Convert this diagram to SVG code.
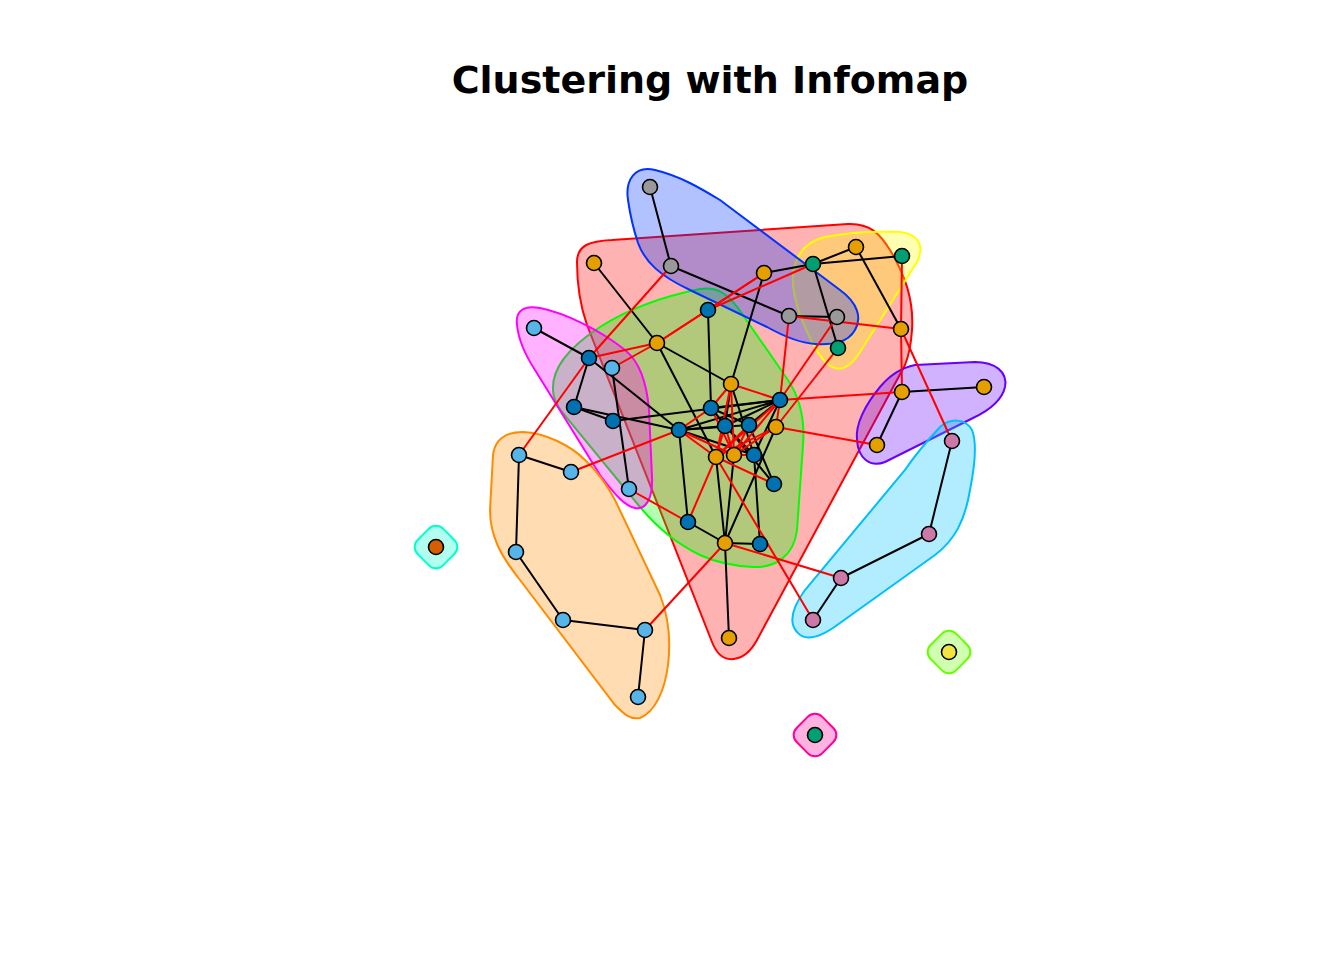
<svg xmlns="http://www.w3.org/2000/svg" width="1344" height="960" viewBox="0 0 1344 960">
<style>
.h{stroke-width:2}
.k line{stroke:#000;stroke-width:2}
.rd line{stroke:#FF0000;stroke-width:2}
.n circle{stroke:#000;stroke-width:1.6}
.o{fill:#E69F00}.b{fill:#0072B2}.s{fill:#56B4E9}.g{fill:#999999}.t{fill:#009E73}.p{fill:#CC79A7}.y{fill:#F0E442}.v{fill:#D55E00}
</style>
<rect width="1344" height="960" fill="#fff"/>
<text x="710" y="93" text-anchor="middle" font-family="DejaVu Sans, sans-serif" font-weight="bold" font-size="38">Clustering with Infomap</text>
<g id="hulls">
<path id="hull-red" class="h" fill="#FF0000" fill-opacity="0.3" stroke="#FF0000" d="M577,262 C577,245 590,241 612,240 L848,224 C870,223 880,234 890,250 C905,275 914,300 912,330 C911,345 909,355 905,365 L757,640 C745,662 722,668 712,642 L587,325 C580,305 577,285 577,262 Z"/>
<path id="hull-yellow" class="h" fill="#FFFF00" fill-opacity="0.3" stroke="#FFFF00" d="M793,275 C795,255 805,242 825,237 C845,233 875,231 900,232 C918,234 925,245 917,262 L860,352 C850,368 840,372 830,366 C818,358 808,335 800,315 C795,300 792,285 793,275 Z"/>
<path id="hull-green" class="h" fill="#00FF00" fill-opacity="0.3" stroke="#00FF00" d="M553,390 C552,370 565,350 600,327 C630,308 665,296 700,289 C718,286 728,295 738,308 L788,380 C800,398 805,420 803,445 L797,530 C794,556 775,568 753,567 C735,566 715,562 700,555 C675,543 655,525 640,507 L562,412 C556,404 553,398 553,390 Z"/>
<path id="hull-blue" class="h" fill="#0033FF" fill-opacity="0.3" stroke="#0033FF" d="M628,200 C625,180 635,165 655,170 C680,176 700,188 720,200 L840,290 C858,303 862,318 855,330 C848,342 835,345 815,344 C800,343 785,337 767,327 L690,290 C660,276 645,262 638,243 C633,228 630,214 628,200 Z"/>
<path id="hull-magenta" class="h" fill="#FF00FF" fill-opacity="0.3" stroke="#FF00FF" d="M517,325 C515,310 525,305 540,308 C565,313 600,330 625,350 C640,362 647,385 649,410 L652,477 C653,500 645,510 635,508 C625,506 615,495 600,475 L535,370 C522,350 518,335 517,325 Z"/>
<path id="hull-orange" class="h" fill="#FF8C00" fill-opacity="0.3" stroke="#FF8C00" d="M493,455 C495,440 505,432 523,432 C545,433 570,445 585,460 C598,472 607,485 615,500 L660,595 C668,615 671,640 668,665 C665,690 655,712 640,718 C630,720 624,714 615,705 L520,580 C500,555 490,535 490,510 Z"/>
<path id="hull-purple" class="h" fill="#6600FF" fill-opacity="0.3" stroke="#6600FF" d="M857,440 C855,425 865,405 880,387 C890,375 900,368 915,365 L975,362 C995,362 1008,372 1005,387 C1002,400 990,410 973,418 L885,462 C870,468 858,458 857,440 Z"/>
<path id="hull-lightblue" class="h" fill="#00BFFF" fill-opacity="0.3" stroke="#00BFFF" d="M940,427 C950,418 965,418 972,430 C978,445 974,470 970,490 C965,520 955,540 935,555 L840,623 C820,638 805,642 797,632 C788,622 792,608 805,590 L905,470 C915,455 928,440 940,427 Z"/>
<rect id="hull-aqua" class="h" x="-18" y="-18" width="36" height="36" rx="10" transform="translate(436,547) rotate(45)" fill="#00FFCC" fill-opacity="0.3" stroke="#00FFCC"/>
<rect id="hull-lime" class="h" x="-18" y="-18" width="36" height="36" rx="10" transform="translate(949,652) rotate(45)" fill="#66FF00" fill-opacity="0.3" stroke="#66FF00"/>
<rect id="hull-pink" class="h" x="-18" y="-18" width="36" height="36" rx="10" transform="translate(815,735) rotate(45)" fill="#FF0099" fill-opacity="0.3" stroke="#FF0099"/>
</g>
<g id="edges">
<g class="k">
<line x1="650" y1="187" x2="671" y2="266"/><line x1="671" y1="266" x2="789" y2="316"/><line x1="789" y1="316" x2="837" y2="317"/>
<line x1="764" y1="273" x2="813" y2="264"/><line x1="813" y1="264" x2="856" y2="247"/><line x1="813" y1="264" x2="902" y2="256"/><line x1="813" y1="264" x2="838" y2="348"/>
<line x1="856" y1="247" x2="901" y2="329"/><line x1="764" y1="273" x2="731" y2="384"/><line x1="594" y1="263" x2="657" y2="343"/><line x1="657" y1="343" x2="731" y2="384"/><line x1="657" y1="343" x2="716" y2="457"/>
<line x1="708" y1="310" x2="711" y2="408"/><line x1="534" y1="328" x2="589" y2="358"/><line x1="589" y1="358" x2="679" y2="430"/><line x1="589" y1="358" x2="574" y2="407"/>
<line x1="574" y1="407" x2="613" y2="421"/><line x1="574" y1="407" x2="679" y2="430"/><line x1="613" y1="421" x2="780" y2="400"/>
<line x1="612" y1="368" x2="629" y2="489"/><line x1="519" y1="455" x2="571" y2="472"/><line x1="519" y1="455" x2="516" y2="552"/><line x1="516" y1="552" x2="563" y2="620"/><line x1="563" y1="620" x2="645" y2="630"/><line x1="645" y1="630" x2="638" y2="697"/>
<line x1="679" y1="430" x2="688" y2="522"/><line x1="688" y1="522" x2="725" y2="543"/><line x1="725" y1="543" x2="760" y2="544"/><line x1="725" y1="543" x2="729" y2="638"/>
<line x1="725" y1="543" x2="716" y2="457"/><line x1="725" y1="543" x2="734" y2="455"/><line x1="725" y1="543" x2="776" y2="427"/><line x1="760" y1="544" x2="754" y2="455"/>
<line x1="902" y1="392" x2="984" y2="387"/><line x1="902" y1="392" x2="877" y2="445"/>
<line x1="952" y1="441" x2="929" y2="534"/><line x1="929" y1="534" x2="841" y2="578"/><line x1="841" y1="578" x2="813" y2="620"/>
<line x1="711" y1="408" x2="780" y2="400"/><line x1="679" y1="430" x2="780" y2="400"/><line x1="679" y1="430" x2="725" y2="426"/><line x1="679" y1="430" x2="749" y2="425"/><line x1="679" y1="430" x2="754" y2="455"/>
<line x1="780" y1="400" x2="725" y2="426"/><line x1="780" y1="400" x2="749" y2="425"/><line x1="725" y1="426" x2="754" y2="455"/><line x1="749" y1="425" x2="774" y2="484"/><line x1="711" y1="408" x2="774" y2="484"/>
<line x1="731" y1="384" x2="725" y2="426"/><line x1="731" y1="384" x2="754" y2="455"/><line x1="780" y1="400" x2="754" y2="455"/><line x1="711" y1="408" x2="749" y2="425"/>
</g>
<g class="rd">
<line x1="519" y1="455" x2="589" y2="358"/><line x1="671" y1="266" x2="589" y2="358"/><line x1="589" y1="358" x2="657" y2="343"/><line x1="612" y1="368" x2="657" y2="343"/>
<line x1="657" y1="343" x2="708" y2="310"/><line x1="708" y1="310" x2="764" y2="273"/><line x1="708" y1="310" x2="813" y2="264"/><line x1="657" y1="343" x2="764" y2="273"/>
<line x1="789" y1="316" x2="901" y2="329"/><line x1="789" y1="316" x2="780" y2="400"/><line x1="837" y1="317" x2="780" y2="400"/><line x1="838" y1="348" x2="776" y2="427"/>
<line x1="902" y1="256" x2="901" y2="329"/><line x1="901" y1="329" x2="902" y2="392"/><line x1="901" y1="329" x2="952" y2="441"/>
<line x1="780" y1="400" x2="902" y2="392"/><line x1="776" y1="427" x2="877" y2="445"/>
<line x1="731" y1="384" x2="780" y2="400"/><line x1="731" y1="384" x2="711" y2="408"/><line x1="731" y1="384" x2="716" y2="457"/><line x1="731" y1="384" x2="734" y2="455"/>
<line x1="679" y1="430" x2="711" y2="408"/><line x1="679" y1="430" x2="716" y2="457"/><line x1="679" y1="430" x2="734" y2="455"/>
<line x1="780" y1="400" x2="716" y2="457"/><line x1="780" y1="400" x2="734" y2="455"/><line x1="780" y1="400" x2="776" y2="427"/>
<line x1="725" y1="426" x2="716" y2="457"/><line x1="725" y1="426" x2="734" y2="455"/><line x1="749" y1="425" x2="716" y2="457"/><line x1="749" y1="425" x2="734" y2="455"/>
<line x1="776" y1="427" x2="716" y2="457"/><line x1="776" y1="427" x2="734" y2="455"/><line x1="711" y1="408" x2="734" y2="455"/><line x1="734" y1="455" x2="754" y2="455"/>
<line x1="716" y1="457" x2="774" y2="484"/><line x1="688" y1="522" x2="716" y2="457"/><line x1="813" y1="620" x2="716" y2="457"/>
<line x1="725" y1="543" x2="645" y2="630"/><line x1="725" y1="543" x2="841" y2="578"/><line x1="629" y1="489" x2="688" y2="522"/><line x1="571" y1="472" x2="679" y2="430"/>
</g>
</g>
<g id="nodes" class="n">
<circle id="G1" class="g" cx="650" cy="187" r="7.5"/><circle id="G2" class="g" cx="671" cy="266" r="7.5"/><circle id="G3" class="g" cx="789" cy="316" r="7.5"/><circle id="G4" class="g" cx="837" cy="317" r="7.5"/>
<circle id="T1" class="t" cx="813" cy="264" r="7.5"/><circle id="T2" class="t" cx="902" cy="256" r="7.5"/><circle id="T3" class="t" cx="838" cy="348" r="7.5"/><circle id="T4" class="t" cx="815" cy="735" r="7.5"/>
<circle id="O1" class="o" cx="594" cy="263" r="7.5"/><circle id="O2" class="o" cx="764" cy="273" r="7.5"/><circle id="O3" class="o" cx="856" cy="247" r="7.5"/><circle id="O4" class="o" cx="901" cy="329" r="7.5"/>
<circle id="O5" class="o" cx="657" cy="343" r="7.5"/><circle id="O6" class="o" cx="731" cy="384" r="7.5"/><circle id="O7" class="o" cx="776" cy="427" r="7.5"/><circle id="O8" class="o" cx="716" cy="457" r="7.5"/>
<circle id="O9" class="o" cx="734" cy="455" r="7.5"/><circle id="O10" class="o" cx="725" cy="543" r="7.5"/><circle id="O11" class="o" cx="729" cy="638" r="7.5"/><circle id="O12" class="o" cx="902" cy="392" r="7.5"/>
<circle id="O13" class="o" cx="984" cy="387" r="7.5"/><circle id="O14" class="o" cx="877" cy="445" r="7.5"/>
<circle id="B1" class="b" cx="708" cy="310" r="7.5"/><circle id="B2" class="b" cx="589" cy="358" r="7.5"/><circle id="B3" class="b" cx="574" cy="407" r="7.5"/><circle id="B4" class="b" cx="613" cy="421" r="7.5"/>
<circle id="B5" class="b" cx="679" cy="430" r="7.5"/><circle id="B6" class="b" cx="711" cy="408" r="7.5"/><circle id="B7" class="b" cx="725" cy="426" r="7.5"/><circle id="B8" class="b" cx="749" cy="425" r="7.5"/>
<circle id="B9" class="b" cx="780" cy="400" r="7.5"/><circle id="B10" class="b" cx="754" cy="455" r="7.5"/><circle id="B11" class="b" cx="774" cy="484" r="7.5"/><circle id="B12" class="b" cx="688" cy="522" r="7.5"/>
<circle id="B13" class="b" cx="760" cy="544" r="7.5"/>
<circle id="S1" class="s" cx="534" cy="328" r="7.5"/><circle id="S2" class="s" cx="612" cy="368" r="7.5"/><circle id="S3" class="s" cx="629" cy="489" r="7.5"/><circle id="S4" class="s" cx="519" cy="455" r="7.5"/>
<circle id="S5" class="s" cx="571" cy="472" r="7.5"/><circle id="S6" class="s" cx="516" cy="552" r="7.5"/><circle id="S7" class="s" cx="563" cy="620" r="7.5"/><circle id="S8" class="s" cx="645" cy="630" r="7.5"/>
<circle id="S9" class="s" cx="638" cy="697" r="7.5"/>
<circle id="P1" class="p" cx="952" cy="441" r="7.5"/><circle id="P2" class="p" cx="929" cy="534" r="7.5"/><circle id="P3" class="p" cx="841" cy="578" r="7.5"/><circle id="P4" class="p" cx="813" cy="620" r="7.5"/>
<circle id="Y1" class="y" cx="949" cy="652" r="7.5"/><circle id="V1" class="v" cx="436" cy="547" r="7.5"/>
</g>
</svg>
